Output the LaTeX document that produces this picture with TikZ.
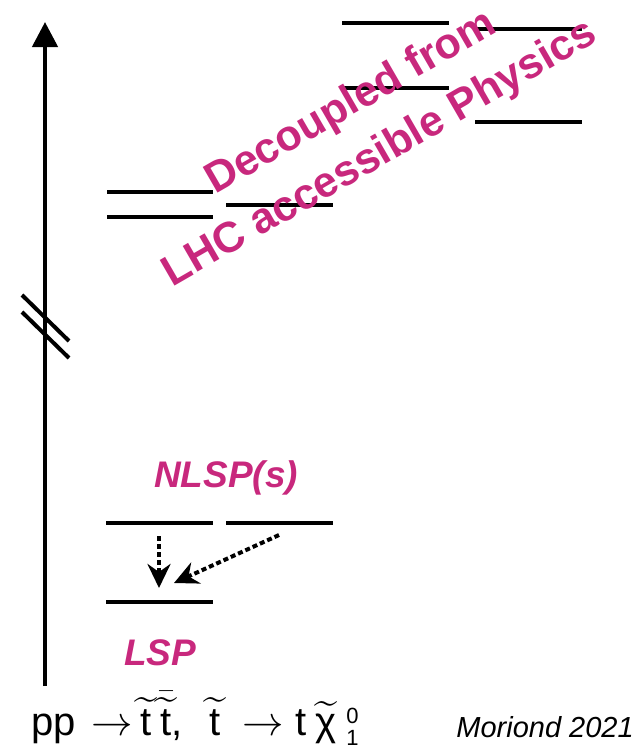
\documentclass[tikz,border=0pt]{standalone}
\usepackage{amsmath}
\usepackage{fontspec}
\setmainfont{Liberation Sans}
\usetikzlibrary{arrows.meta}
\definecolor{susy}{RGB}{200,40,125}
\tikzset{
  level/.style={line width=4pt},
  axisline/.style={line width=4.5pt,-{Triangle[width=25pt,length=25pt]}},
  breakmark/.style={line width=4pt},
  decay/.style={line width=4pt,dash pattern=on 5pt off 3pt,-{Stealth[length=24pt,width=23pt,inset=8pt]}},
  pinklabel/.style={text=susy,font=\fontsize{37}{44}\selectfont\bfseries\itshape,inner sep=0pt},
  decoupled/.style={text=susy,font=\fontsize{43}{50}\selectfont\bfseries,inner sep=0pt,rotate=30,anchor=base},
}
\newcommand{\smalldigit}[1]{{\fontsize{11}{13}\selectfont #1}}
\begin{document}
\begin{tikzpicture}[x=1pt,y=-1pt]
\useasboundingbox (0,0) rectangle (642,747);
% axis
\coordinate (axb) at (45,686);
\coordinate (axt) at (45,22);
\draw[axisline] (axb) -- (axt);
% break marks
\coordinate (b1a) at (22,295); \coordinate (b1b) at (69,341);
\coordinate (b2a) at (22,312); \coordinate (b2b) at (69,358);
\draw[breakmark] (b1a) -- (b1b);
\draw[breakmark] (b2a) -- (b2b);
% heavy levels
\coordinate (h1a) at (107,192); \coordinate (h1b) at (213,192);
\coordinate (h2a) at (107,217); \coordinate (h2b) at (213,217);
\coordinate (h3a) at (226,205); \coordinate (h3b) at (333,205);
\coordinate (h4a) at (342,23);  \coordinate (h4b) at (449,23);
\coordinate (h5a) at (342,88);  \coordinate (h5b) at (449,88);
\coordinate (h6a) at (475,29);  \coordinate (h6b) at (582,29);
\coordinate (h7a) at (475,122); \coordinate (h7b) at (582,122);
\foreach \i in {1,...,7} {\draw[level] (h\i a) -- (h\i b);}
% light levels
\coordinate (n1a) at (106,523); \coordinate (n1b) at (213,523);
\coordinate (n2a) at (226,523); \coordinate (n2b) at (333,523);
\coordinate (la) at (106,602);  \coordinate (lb) at (213,602);
\draw[level] (n1a) -- (n1b);
\draw[level] (n2a) -- (n2b);
\draw[level] (la) -- (lb);
% decays
\coordinate (d1s) at (159,536); \coordinate (d1e) at (159,588);
\coordinate (d2s) at (279,535); \coordinate (d2e) at (174,583);
\draw[decay] (d1s) -- (d1e);
\draw[decay] (d2s) -- (d2e);
% labels
\node[pinklabel,anchor=base] (nlsp) at (226,487) {NLSP(s)};
\node[pinklabel,anchor=base] (lsp) at (160,665) {LSP};
\node[decoupled] (dec1) at (357,113) {Decoupled from};
\node[decoupled] (dec2) at (386,164) {LHC accessible Physics};
\node[anchor=base west,inner sep=0pt,scale=2,transform shape,font=\fontsize{20}{24}\selectfont] (proc) at (31,735)
  {pp\hspace{8pt}$\rightarrow$\hspace{3.5pt}$\widetilde{\text{t}}$\hspace{4.5pt}$\bar{\widetilde{\text{t}}}$,\hspace{13.5pt}$\widetilde{\text{t}}$\hspace{11pt}$\rightarrow$\hspace{5.5pt}t\hspace{4.5pt}$\widetilde{\text{χ}}$\hspace{5pt}\rlap{\raisebox{6pt}{\smalldigit{0}}}\raisebox{-5pt}{\smalldigit{1}}};
\node[anchor=base east,inner sep=0pt,font=\fontsize{29}{34}\selectfont\itshape] (conf) at (634,737) {Moriond 2021};
\end{tikzpicture}
\end{document}
